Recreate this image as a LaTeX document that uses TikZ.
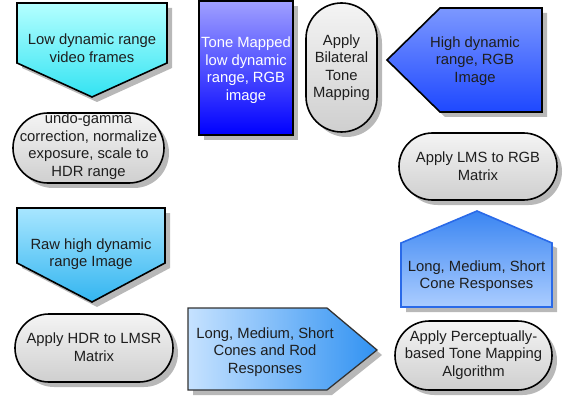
\documentclass[tikz,border=0pt]{standalone}
\usepackage{fontspec}
\setmainfont{Liberation Sans}
\definecolor{lowtop}{HTML}{B4FFFF}
\definecolor{lowbot}{HTML}{33E3F2}
\definecolor{tmtop}{HTML}{A0A0FF}
\definecolor{tmbot}{HTML}{0000FF}
\definecolor{graytop}{HTML}{F4F4F4}
\definecolor{graybot}{HTML}{CFCFCF}
\definecolor{hdrtop}{HTML}{7C98FF}
\definecolor{hdrbot}{HTML}{1E48FF}
\definecolor{conetop}{HTML}{3A85F2}
\definecolor{conebot}{HTML}{ABCDFF}
\definecolor{coneedge}{HTML}{2A6AE8}
\definecolor{rawtop}{HTML}{A8E6FF}
\definecolor{rawbot}{HTML}{33B5F0}
\definecolor{rodleft}{HTML}{C6E2FF}
\definecolor{rodright}{HTML}{3192F2}
\definecolor{txt}{HTML}{1E1E1E}
\tikzset{
  lbl/.style={font=\fontsize{14.8}{17.5}\selectfont, align=center, text=txt, inner sep=0pt},
  shade/.style={fill=black!28, draw=none, shift={(5,5)}},
  edge/.style={draw=black, line width=1.6pt, line join=miter},
  grayfill/.style={top color=graytop, bottom color=graybot},
}
\begin{document}
\begin{tikzpicture}[x=1pt,y=-1pt]
\useasboundingbox (0,0) rectangle (567,398);
% shadows
\fill[shade] (17,3) -- (167,3) -- (167,63) -- (92,97) -- (17,63) -- cycle;
\fill[shade] (199,1) rectangle (293,135);
\fill[shade, rounded corners=35.5] (306,3) rectangle (377,132);
\fill[shade] (387,60) -- (440,8) -- (542,8) -- (542,112) -- (440,112) -- cycle;
\fill[shade, rounded corners=35] (13,113) rectangle (164,183);
\fill[shade, rounded corners=33.5] (399,133) rectangle (557,200);
\fill[shade] (401,243) -- (477,211) -- (552,243) -- (552,307) -- (401,307) -- cycle;
\fill[shade] (17,208) -- (165,208) -- (165,263) -- (92,302) -- (17,263) -- cycle;
\fill[shade, rounded corners=34] (15,314) rectangle (173,382);
\fill[shade] (188,308) -- (327,308) -- (377,350) -- (327,390) -- (188,390) -- cycle;
\fill[shade, rounded corners=34.5] (395,321) rectangle (552,390);
% shapes
\path[edge, top color=lowtop, bottom color=lowbot] (17,3) -- (167,3) -- (167,63) -- (92,97) -- (17,63) -- cycle;
\path[edge, top color=tmtop, bottom color=tmbot] (199,1) rectangle (293,135);
\path[edge, grayfill, rounded corners=35.5] (306,3) rectangle (377,132);
\path[edge, top color=hdrtop, bottom color=hdrbot] (387,60) -- (440,8) -- (542,8) -- (542,112) -- (440,112) -- cycle;
\path[edge, grayfill, rounded corners=35] (13,113) rectangle (164,183);
\path[edge, grayfill, rounded corners=33.5] (399,133) rectangle (557,200);
\path[draw=coneedge, line width=1.6pt, top color=conetop, bottom color=conebot] (401,243) -- (477,211) -- (552,243) -- (552,307) -- (401,307) -- cycle;
\path[edge, top color=rawtop, bottom color=rawbot] (17,208) -- (165,208) -- (165,263) -- (92,302) -- (17,263) -- cycle;
\path[edge, grayfill, rounded corners=34] (15,314) rectangle (173,382);
\path[draw=black!80, line width=1.3pt, left color=rodleft, right color=rodright] (188,308) -- (327,308) -- (377,350) -- (327,390) -- (188,390) -- cycle;
\path[edge, grayfill, rounded corners=34.5] (395,321) rectangle (552,390);
% labels
\node[lbl] (lowvid) at (92,48) {Low dynamic range\\video frames};
\node[lbl, text=white] (tonemapped) at (246,70) {Tone Mapped\\low dynamic\\range, RGB\\image};
\node[lbl] (bilateral) at (341.5,67.5) {Apply\\Bilateral\\Tone\\Mapping};
\node[lbl] (hdrrgb) at (475,61) {High dynamic\\range, RGB\\Image};
\node[lbl] (undogamma) at (88.5,146) {undo-gamma\\correction, normalize\\exposure, scale to\\HDR range};
\node[lbl] (lmsrgb) at (478,166) {Apply LMS to RGB\\Matrix};
\node[lbl] (cone) at (476.5,276) {Long, Medium, Short\\Cone Responses};
\node[lbl] (rawhdr) at (91,254) {Raw high dynamic\\range Image};
\node[lbl] (hdrlmsr) at (94,347) {Apply HDR to LMSR\\Matrix};
\node[lbl] (rod) at (265,352) {Long, Medium, Short\\Cones and Rod\\Responses};
\node[lbl] (percept) at (473.5,355) {Apply Perceptually-\\based Tone Mapping\\Algorithm};
\end{tikzpicture}
\end{document}
